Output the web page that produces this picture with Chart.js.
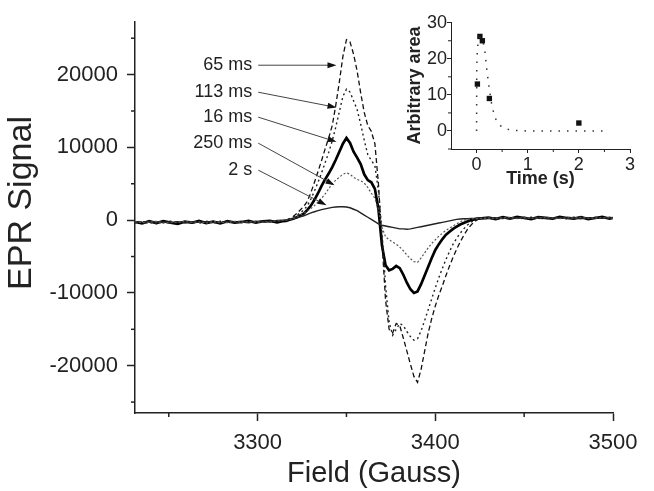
<!DOCTYPE html>
<html><head><meta charset="utf-8">
<script src="https://cdn.jsdelivr.net/npm/chart.js@4.4.1/dist/chart.umd.min.js"></script>
<style>
html,body{margin:0;padding:0;background:#fff;}
#wrap{position:relative;width:654px;height:491px;}
#main{position:absolute;left:0;top:0;}
#inset{position:absolute;left:390px;top:0;}
</style>
</head><body>
<div id="wrap"><canvas id="main" width="654" height="491"></canvas><canvas id="inset" width="264" height="200"></canvas></div>
<script>
// ---------- main chart data (Field in Gauss, EPR signal) ----------
const field = [
  3231,3235,3239,3243,3247,3251,3255,3259,3263,3267,3271,3275,3279,3283,3287,3291,3295,3299,3303,3307,3311,3314,
  3316,3318,3320,3322,3324,3326,3328,3330,
  3332,3334,3336,3338,3340,3342,3344,3346,
  3348,3350,3352,3354,3356,3358,3360,3362,
  3364,3366,3368,3370,3372,3374,3376,3378,
  3380,3382,3384,3386,3388,3390,3392,3394,
  3396,3398,3400,3402,3404,3406,3408,3410,
  3412,3414,3416,3418,3420,3422,3424,3426,
  3430,3434,3438,3442,3446,3450,3454,3458,3462,3466,3470,3474,3478,3482,3486,3490,3494,3498,3500
];
const signal16ms = [
  -250,-450,-150,-400,-150,-350,-500,-200,-350,-100,-400,-200,-450,-150,-350,-250,-100,-350,-150,-100,-300,-150,
  -100,50,200,400,650,900,1400,2000,
  2800,3700,4700,5600,6400,7300,8300,9400,
  10500,11300,10600,9400,8600,7700,6300,5500,
  5200,4300,1500,-3500,-6200,-6900,-6700,-6300,
  -6600,-7500,-8600,-9500,-10000,-9800,-8800,-7600,
  -6400,-5200,-4100,-3300,-2600,-2000,-1600,-1200,
  -900,-600,-400,-200,0,100,200,250,
  350,150,400,200,450,300,150,400,300,200,450,300,200,400,150,300,450,200,300
];
const signal65ms = [
  -300,-200,-400,-250,-350,-150,-300,-200,-400,-300,-150,-350,-250,-300,-200,-350,-250,-150,-250,-200,-100,-50,
  0,200,500,900,1400,1900,2600,3800,
  5200,6700,8200,9800,11300,13000,15800,19000,
  22500,24800,24500,22800,20500,17500,14800,13000,
  12200,10500,5000,-3000,-11000,-15000,-15500,-14200,
  -14500,-16200,-18000,-19800,-21500,-22300,-20500,-18000,
  -15500,-13500,-11800,-10300,-9000,-7600,-6300,-5100,
  -4000,-3000,-2100,-1300,-700,-200,100,200,
  250,350,200,300,250,400,300,250,200,350,300,250,400,300,350,250,300,200,350
];
const signal113ms = [
  -350,-250,-300,-450,-200,-300,-250,-350,-200,-400,-250,-300,-150,-350,-250,-200,-300,-250,-150,-200,-150,-100,
  0,150,350,650,1000,1400,2000,2900,
  4000,5200,6500,7900,9300,10900,12800,14900,
  17000,18000,17600,16400,15200,13200,11000,9000,
  8200,7500,4000,-1500,-9000,-14000,-15800,-15000,
  -14200,-14500,-15300,-16000,-16500,-16300,-15200,-13800,
  -12300,-10800,-9300,-7900,-6600,-5400,-4300,-3300,
  -2500,-1800,-1200,-700,-300,0,150,250,
  200,300,350,250,300,200,400,300,350,250,300,200,350,250,300,400,250,350,300
];
const signal250ms = [
  -200,-350,-300,-150,-400,-250,-350,-150,-300,-250,-400,-200,-300,-350,-150,-300,-200,-250,-300,-150,-100,-50,
  0,100,250,450,700,950,1250,1600,
  2000,2500,3000,3600,4300,5000,5500,5900,
  6300,6500,6300,5900,5600,5400,5100,4500,
  3700,3000,1500,-1000,-2300,-2700,-3000,-3300,
  -3700,-4200,-4800,-5300,-5700,-5800,-5200,-4500,
  -3800,-3200,-2700,-2200,-1800,-1400,-1100,-800,
  -500,-250,0,100,150,200,200,250,
  300,250,300,400,200,350,250,300,400,300,200,350,300,400,250,300,350,300,250
];
const signal2s = [
  -300,-300,-150,-300,-250,-400,-200,-350,-250,-300,-200,-300,-350,-150,-300,-250,-350,-200,-150,-200,-50,0,
  0,100,200,300,450,600,800,1000,
  1150,1300,1450,1550,1650,1750,1800,1850,
  1850,1800,1700,1500,1300,1000,700,400,
  100,-200,-500,-700,-800,-900,-1000,-1100,
  -1200,-1200,-1250,-1200,-1100,-1000,-900,-800,
  -700,-600,-500,-400,-300,-200,-100,0,
  100,150,200,200,250,250,300,250,
  350,200,300,250,350,300,250,400,250,300,350,250,300,200,350,300,250,400,300
];
const xMajorTicks = [3300, 3400, 3500];
const xMinorTicks = [3250, 3350, 3450];
const yMajorTicks = [-20000, -10000, 0, 10000, 20000];
const yMinorTicks = [-25000, -15000, -5000, 5000, 15000, 25000];
const yTitle = 'EPR Signal';

// curve labels with arrows (text anchor and arrow tip in data units)
const labelText = ['65 ms', '113 ms', '16 ms', '250 ms', '2 s'];
const labelField = [3297, 3297, 3297, 3297, 3297];
const labelSignal = [21290, 17580, 14150, 10580, 6870];
const tipField = [3344.4, 3344.4, 3344.4, 3343.3, 3338.8];
const tipSignal = [21290, 15480, 10760, 4800, 2060];

// ---------- inset data ----------
const pointTime = [0.016, 0.065, 0.113, 0.25, 2];
const pointArea = [13, 26.2, 25, 9, 2.2];
const fitTime = [0, 0.004, 0.015, 0.035, 0.06, 0.09, 0.12, 0.16, 0.2, 0.25, 0.3, 0.35, 0.4, 0.5, 0.65, 0.8, 1, 2.5];
const fitArea = [0, 18, 22.5, 25, 26, 26, 25, 22.5, 17, 11.5, 7, 4.2, 2.5, 1, 0.3, 0.1, 0, 0];
const insetXTicks = [0, 1, 2, 3];
const insetXMinor = [0.5, 1.5, 2.5];
const insetYTicks = [0, 10, 20, 30];
const insetYMinor = [-5, 5, 15, 25];

const FONT = "'Liberation Sans', Arial, Helvetica, sans-serif";
const pts = (xs, ys) => xs.map((v, i) => ({x: v, y: ys[i]}));

const mainDecor = {
  id: 'mainDecor',
  afterDraw(chart) {
    const {ctx, scales: {x, y}} = chart;
    ctx.save();
    ctx.strokeStyle = '#222'; ctx.lineWidth = 1.5;
    xMinorTicks.forEach(v => { const px = x.getPixelForValue(v); ctx.beginPath(); ctx.moveTo(px, y.bottom); ctx.lineTo(px, y.bottom + 4); ctx.stroke(); });
    yMinorTicks.forEach(v => { const py = y.getPixelForValue(v); ctx.beginPath(); ctx.moveTo(x.left, py); ctx.lineTo(x.left - 4, py); ctx.stroke(); });
    // y axis title
    ctx.save();
    ctx.translate(22, 203); ctx.rotate(-Math.PI / 2);
    ctx.font = '34px ' + FONT; ctx.fillStyle = '#222'; ctx.textAlign = 'center'; ctx.textBaseline = 'middle';
    ctx.fillText(yTitle, 0, 0);
    ctx.restore();
    ctx.font = '18px ' + FONT; ctx.fillStyle = '#222'; ctx.textAlign = 'right'; ctx.textBaseline = 'middle';
    labelText.forEach((t, i) => {
      const tx = x.getPixelForValue(labelField[i]);
      const ty = y.getPixelForValue(labelSignal[i]);
      ctx.fillStyle = '#222';
      ctx.fillText(t, tx, ty);
      const sx = tx + 6, sy = ty;
      const ex = x.getPixelForValue(tipField[i]), ey = y.getPixelForValue(tipSignal[i]);
      const ang = Math.atan2(ey - sy, ex - sx);
      ctx.strokeStyle = '#444'; ctx.lineWidth = 1;
      ctx.beginPath(); ctx.moveTo(sx, sy); ctx.lineTo(ex - 7 * Math.cos(ang), ey - 7 * Math.sin(ang)); ctx.stroke();
      ctx.fillStyle = '#111';
      ctx.beginPath();
      ctx.moveTo(ex, ey);
      ctx.lineTo(ex - 9 * Math.cos(ang) + 3 * Math.sin(ang), ey - 9 * Math.sin(ang) - 3 * Math.cos(ang));
      ctx.lineTo(ex - 9 * Math.cos(ang) - 3 * Math.sin(ang), ey - 9 * Math.sin(ang) + 3 * Math.cos(ang));
      ctx.closePath(); ctx.fill();
    });
    ctx.restore();
  }
};

const lineDs = (label, ys, color, width, dash) => ({
  label, data: pts(field, ys), showLine: true, borderColor: color, borderWidth: width,
  borderDash: dash, pointRadius: 0, fill: false, tension: 0
});

new Chart(document.getElementById('main'), {
  type: 'scatter',
  data: { datasets: [
    lineDs('250 ms', signal250ms, '#555', 1.2, [2, 2]),
    lineDs('2 s', signal2s, '#222', 1.4, []),
    lineDs('113 ms', signal113ms, '#222', 1.4, [2, 3]),
    lineDs('65 ms', signal65ms, '#111', 1.3, [5, 3]),
    lineDs('16 ms', signal16ms, '#000', 2.7, [])
  ]},
  options: {
    responsive: false, animation: false, devicePixelRatio: 1,
    layout: { padding: { left: 0, right: 41, top: 22, bottom: 0 } },
    plugins: { legend: { display: false }, tooltip: { enabled: false } },
    scales: {
      x: {
        type: 'linear', min: 3231, max: 3500,
        afterBuildTicks: s => { s.ticks = xMajorTicks.map(v => ({value: v})); },
        afterFit: s => { s.height = 78; },
        ticks: { font: { family: FONT, size: 22 }, color: '#222', padding: 9, maxRotation: 0, callback: v => String(v) },
        grid: { display: true, drawOnChartArea: false, drawTicks: true, tickLength: 8, tickColor: '#222', tickWidth: 1.5 },
        border: { display: true, color: '#222', width: 1.5 },
        title: { display: true, text: 'Field (Gauss)', font: { family: FONT, size: 29 }, color: '#222', padding: { top: 0, bottom: 0 } }
      },
      y: {
        type: 'linear', min: -26500, max: 27200,
        afterBuildTicks: s => { s.ticks = yMajorTicks.map(v => ({value: v})); },
        afterFit: s => { s.width = 135; },
        ticks: { font: { family: FONT, size: 22 }, color: '#222', padding: 9, callback: v => String(v) },
        grid: { display: true, drawOnChartArea: false, drawTicks: true, tickLength: 8, tickColor: '#222', tickWidth: 1.5 },
        border: { display: true, color: '#222', width: 1.5 },
        title: { display: false }
      }
    }
  },
  plugins: [mainDecor]
});

const insetMinor = {
  id: 'insetMinor',
  afterDraw(chart) {
    const {ctx, scales: {x, y}} = chart;
    ctx.save(); ctx.strokeStyle = '#222'; ctx.lineWidth = 1;
    insetXMinor.forEach(v => { const px = x.getPixelForValue(v); ctx.beginPath(); ctx.moveTo(px, y.bottom); ctx.lineTo(px, y.bottom + 3); ctx.stroke(); });
    insetYMinor.forEach(v => { const py = y.getPixelForValue(v); ctx.beginPath(); ctx.moveTo(x.left, py); ctx.lineTo(x.left - 3, py); ctx.stroke(); });
    ctx.restore();
  }
};

new Chart(document.getElementById('inset'), {
  type: 'scatter',
  data: { datasets: [
    { data: pts(fitTime, fitArea), showLine: true, borderColor: '#333', borderWidth: 1.5, borderDash: [1.5, 7], pointRadius: 0, fill: false },
    { data: pts(pointTime, pointArea), showLine: false, pointStyle: 'rect', pointRadius: 3.8, backgroundColor: '#111', borderColor: '#111', borderWidth: 0 }
  ]},
  options: {
    responsive: false, animation: false, devicePixelRatio: 1,
    layout: { padding: { left: 0, right: 24, top: 22, bottom: 0 } },
    plugins: { legend: { display: false }, tooltip: { enabled: false } },
    scales: {
      x: {
        type: 'linear', min: -0.5, max: 3,
        afterBuildTicks: s => { s.ticks = insetXTicks.map(v => ({value: v})); },
        afterFit: s => { s.height = 51; },
        ticks: { font: { family: FONT, size: 18 }, color: '#222', padding: 1, maxRotation: 0, callback: v => String(v) },
        grid: { display: true, drawOnChartArea: false, tickLength: 4, tickColor: '#222', tickWidth: 1 },
        border: { display: true, color: '#222', width: 1 },
        title: { display: true, text: 'Time (s)', font: { family: FONT, size: 18, weight: 'bold' }, color: '#222', padding: { top: 0, bottom: 10 } }
      },
      y: {
        type: 'linear', min: -5, max: 30.2,
        afterBuildTicks: s => { s.ticks = insetYTicks.map(v => ({value: v})); },
        afterFit: s => { s.width = 61; },
        ticks: { font: { family: FONT, size: 18 }, color: '#222', padding: 0, callback: v => String(v) },
        grid: { display: true, drawOnChartArea: false, tickLength: 4, tickColor: '#222', tickWidth: 1 },
        border: { display: true, color: '#222', width: 1 },
        title: { display: true, text: 'Arbitrary area', font: { family: FONT, size: 18, weight: 'bold' }, color: '#222', padding: { top: 14, bottom: 0 } }
      }
    }
  },
  plugins: [insetMinor]
});
</script>
</body></html>
